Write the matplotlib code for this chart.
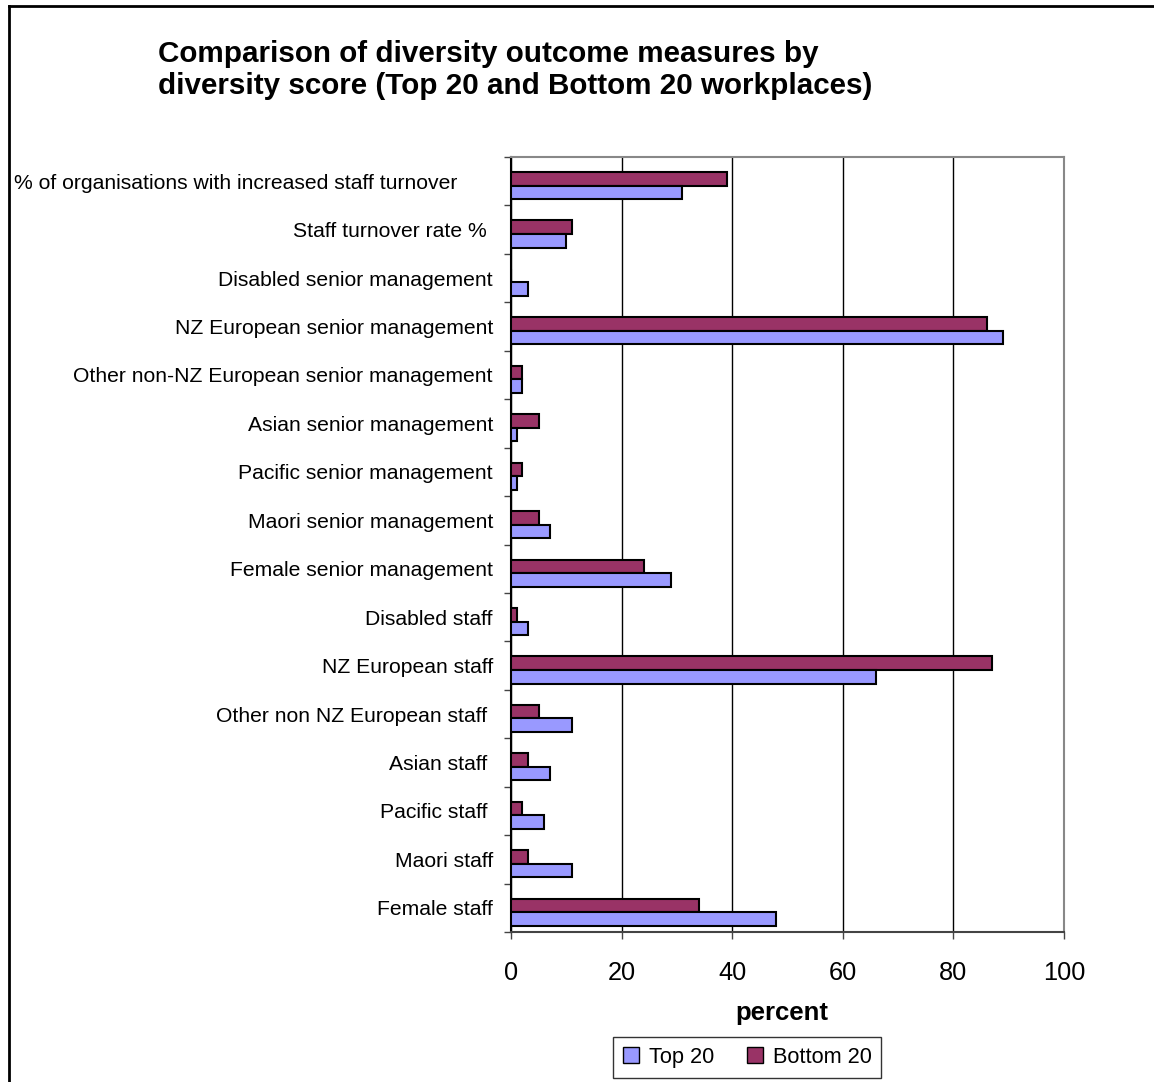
import matplotlib.pyplot as plt
from matplotlib.lines import Line2D
import numpy as np

plt.rcParams['font.family'] = ['Liberation Sans', 'DejaVu Sans']

categories = ['% of organisations with increased staff turnover      ',
              'Staff turnover rate % ',
              'Disabled senior management',
              'NZ European senior management',
              'Other non-NZ European senior management',
              'Asian senior management',
              'Pacific senior management',
              'Maori senior management',
              'Female senior management',
              'Disabled staff',
              'NZ European staff',
              'Other non NZ European staff ',
              'Asian staff ',
              'Pacific staff ',
              'Maori staff',
              'Female staff']
top20 = [31, 10, 3, 89, 2, 1, 1, 7, 29, 3, 66, 11, 7, 6, 11, 48]
bottom20 = [39, 11, 0, 86, 2, 5, 2, 5, 24, 1, 87, 5, 3, 2, 3, 34]

c_top = '#9999FF'
c_bot = '#993366'

fig = plt.figure(figsize=(11.54, 10.82), dpi=100)
ax = fig.add_axes([0.4428, 0.1386, 0.4792, 0.7163])

y = np.arange(len(categories))
h = 0.28
off = 0.09
ax.barh(y + off - h / 2, bottom20, height=h, color=c_bot, edgecolor='black', linewidth=1.5, zorder=3)
ax.barh(y + off + h / 2, top20, height=h, color=c_top, edgecolor='black', linewidth=1.5, zorder=3)

ax.set_xlim(0, 100)
ax.set_ylim(len(categories) - 0.5, -0.5)

# category labels sit between boundary ticks
ax.set_yticks(np.arange(len(categories) + 1) - 0.5)
ax.set_yticklabels([])
ax.set_yticks(y, minor=True)
ax.set_yticklabels(categories, minor=True, fontsize=15.2)
ax.tick_params(axis='y', which='major', length=5, width=1, color='#444444')
ax.tick_params(axis='y', which='minor', length=0, pad=13)

ax.set_xticks([0, 20, 40, 60, 80, 100])
ax.tick_params(axis='x', length=5, width=1, color='#444444', pad=16, labelsize=18.3)

ax.grid(axis='x', color='black', linewidth=1, zorder=0)
for s in ['top', 'right']:
    ax.spines[s].set_color('#888888')
    ax.spines[s].set_linewidth(1.5)
ax.spines['left'].set_color('black')
ax.spines['left'].set_linewidth(1.5)
ax.spines['bottom'].set_color('#444444')
ax.spines['bottom'].set_linewidth(1.5)

fig.text(0.137, 0.9427, 'Comparison of diversity outcome measures by',
         fontsize=21.3, fontweight='bold', va='baseline')
fig.text(0.137, 0.9131, 'diversity score (Top 20 and Bottom 20 workplaces)',
         fontsize=21.3, fontweight='bold', va='baseline')

fig.text(782 / 1154, 1 - 1013 / 1082, 'percent', fontsize=18.5, fontweight='bold',
         ha='center', va='center')

handles = [Line2D([], [], marker='s', linestyle='none', markersize=11,
                  markerfacecolor=c_top, markeredgecolor='black'),
           Line2D([], [], marker='s', linestyle='none', markersize=11,
                  markerfacecolor=c_bot, markeredgecolor='black')]
leg = fig.legend(handles, ['Top 20', 'Bottom 20'], ncol=2, loc='center',
                 bbox_to_anchor=(747 / 1154, 1 - 1057.5 / 1082), fontsize=15.7,
                 frameon=True, fancybox=False, edgecolor='black',
                 handlelength=0.8, handletextpad=0.4, columnspacing=1.5,
                 borderpad=0.45)
leg.get_frame().set_linewidth(1)

# outer chart frame
fig.add_artist(Line2D([0.0078, 0.0078], [0, 0.9945], color='black', linewidth=2,
                      transform=fig.transFigure))
fig.add_artist(Line2D([0.0078, 1], [0.9945, 0.9945], color='black', linewidth=2,
                      transform=fig.transFigure))

fig.savefig('out.png', dpi=100)
